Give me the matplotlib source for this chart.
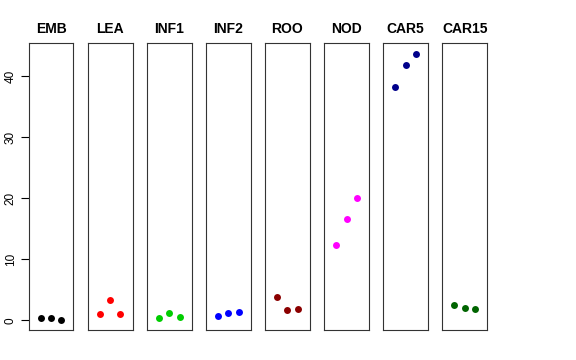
"""Small-multiples dot chart: three measurements per tissue."""

import matplotlib
matplotlib.use("Agg")
import matplotlib.pyplot as plt

plt.rcParams["font.family"] = ["Liberation Sans", "DejaVu Sans"]

tissues = ["EMB", "LEA", "INF1", "INF2", "ROO", "NOD", "CAR5", "CAR15"]
colors = ["black", "red", "#00CD00", "blue", "#8B0000", "magenta", "#00008B", "#006400"]
reps = [1, 2, 3]

emb = [0.35, 0.3, 0.05]
lea = [1.03, 3.3, 1.03]
inf1 = [0.33, 1.15, 0.6]
inf2 = [0.65, 1.2, 1.3]
roo = [3.77, 1.64, 1.85]
nod = [12.4, 16.6, 20.0]
car5 = [38.2, 41.8, 43.65]
car15 = [2.5, 2.0, 1.9]
values = [emb, lea, inf1, inf2, roo, nod, car5, car15]

yticks = [0, 10, 20, 30, 40]

W, H = 576, 360
fig = plt.figure(figsize=(W / 100, H / 100), dpi=100)

left0, width, step = 28.7, 44.7, 59.1
top, bottom = 43, 330

for i, (name, col, vals) in enumerate(zip(tissues, colors, values)):
    x0 = left0 + i * step
    ax = fig.add_axes([x0 / W, 1 - bottom / H, width / W, (bottom - top) / H])
    ax.plot(reps, vals, "o", color=col, markersize=5, markeredgewidth=0)
    ax.set_xlim(-0.16, 4.16)
    ax.set_ylim(-1.6, 45.45)
    ax.set_xticks([])
    for sp in ax.spines.values():
        sp.set_linewidth(0.8)
        sp.set_color("#333333")
    if i == 0:
        ax.set_yticks(yticks)
        ax.set_yticklabels([str(t) for t in yticks], rotation=90, va="center", fontsize=8.5)
        ax.tick_params(axis="y", length=5.5, width=0.8, pad=3)
    else:
        ax.set_yticks([])
    ax.set_title(name, fontsize=10, fontweight="bold", pad=7)

fig.savefig("out.png", dpi=100)
